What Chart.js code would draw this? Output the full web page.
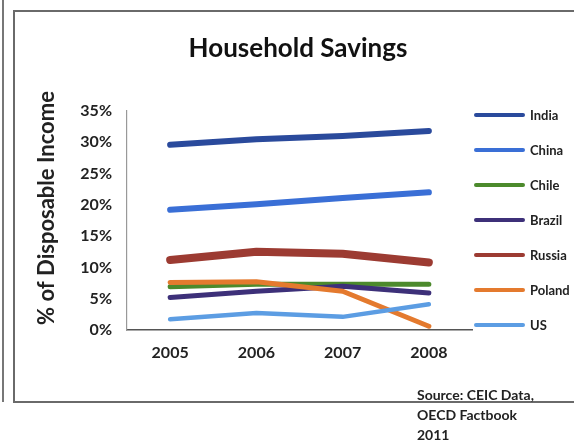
<!DOCTYPE html>
<html>
<head>
<meta charset="utf-8">
<title>Household Savings</title>
<script src="https://cdn.jsdelivr.net/npm/chart.js@4/dist/chart.umd.min.js"></script>
<style>
    body { margin: 0; background: #fff; }
    #wrap { position: relative; width: 574px; height: 442px; overflow: hidden; }
    #myChart { position: absolute; left: 0; top: 0; }
    .frame { position: absolute; border: 2px solid #6a6a6a; border-right: none; }
    #leftLine { position: absolute; left: 2px; top: 0; width: 0; height: 402px; border-left: 2px solid #777; }
    #chartTitle { position: absolute; left: 148px; width: 300px; top: 31px; text-align: center; font: bold 26px Lato, sans-serif; color: #111; }
    #source { position: absolute; left: 417px; top: 385px; font: bold 14px Lato, sans-serif; color: #222; line-height: 20px; }
</style>
</head>
<body>
<div id="wrap">
    <div id="leftLine"></div>
    <div class="frame" style="left:13px; top:10px; width:580px; height:389px;"></div>
    <canvas id="myChart" width="574" height="442"></canvas>
    <div id="chartTitle">Household Savings</div>
    <div id="source">Source: CEIC Data,<br>OECD Factbook<br>2011</div>
</div>
<script>
// 年
const years = ["2005", "2006", "2007", "2008"];
// 国名
const countries = ["India", "China", "Chile", "Brazil", "Russia", "Poland", "US"];
// 各国の貯蓄率 (%)
const india = [29.6, 30.5, 31.0, 31.8];
const china = [19.2, 20.1, 21.1, 22.0];
const chile = [6.9, 7.3, 7.3, 7.3];
const brazil = [5.2, 6.2, 7.0, 5.9];
const russia = [11.2, 12.5, 12.2, 10.8];
const poland = [7.6, 7.7, 6.2, 0.6];
const us = [1.7, 2.7, 2.1, 4.1];
// 目盛り
const yTicks = [0, 5, 10, 15, 20, 25, 30, 35];

const seriesValues = [india, china, chile, brazil, russia, poland, us];
const colors = ["#2a4a9c", "#3a6fd6", "#4c8a2c", "#3d3079", "#9c3b32", "#e47a2e", "#5c9de3"];
const widths = [6, 6, 5, 5, 8, 5, 4.5];

// 凡例と縦軸タイトル (手描き)
const extraPlugin = {
    id: 'sideLegend',
    afterDraw: function (chart) {
        const ctx = chart.ctx;
        ctx.save();
        chart.data.datasets.forEach(function (ds, i) {
            const y = 115 + 35 * i;
            ctx.strokeStyle = ds.borderColor;
            ctx.lineWidth = 4;
            ctx.lineCap = 'round';
            ctx.beginPath();
            ctx.moveTo(476, y);
            ctx.lineTo(523, y);
            ctx.stroke();
            ctx.fillStyle = '#222';
            ctx.font = 'bold 13px Lato, sans-serif';
            ctx.textAlign = 'left';
            ctx.textBaseline = 'middle';
            ctx.fillText(ds.label, 530, y + 1);
        });
        // 縦軸タイトル
        ctx.translate(47, 208);
        ctx.rotate(-Math.PI / 2);
        ctx.fillStyle = '#222';
        ctx.font = 'bold 22px Lato, sans-serif';
        ctx.textAlign = 'center';
        ctx.textBaseline = 'middle';
        ctx.fillText('% of Disposable Income', 0, 0);
        ctx.restore();
    }
};

const datasets = countries.map(function (name, i) {
    return {
        label: name,
        data: seriesValues[i],
        borderColor: colors[i],
        backgroundColor: colors[i],
        borderWidth: widths[i],
        borderCapStyle: 'round',
        borderJoinStyle: 'round',
        pointRadius: 0,
        tension: 0,
        order: countries.length - i
    };
});

const ctx = document.getElementById('myChart').getContext('2d');
const myChart = new Chart(ctx, {
    type: 'line',
    data: { labels: years, datasets: datasets },
    options: {
        responsive: false,
        animation: false,
        layout: { padding: { left: 0, right: 102, top: 111, bottom: 0 } },
        plugins: {
            legend: { display: false },
            tooltip: { enabled: false },
            title: { display: false }
        },
        scales: {
            x: {
                offset: true,
                grid: { display: false, drawTicks: false },
                border: { display: true, color: '#555', width: 1.5 },
                ticks: {
                    padding: 13,
                    color: '#222',
                    font: { family: 'Lato', size: 16, weight: 'bold' }
                },
                afterFit: function (scale) { scale.height = 112; }
            },
            y: {
                min: 0,
                max: 35,
                afterBuildTicks: function (scale) {
                    scale.ticks = yTicks.map(function (v) { return { value: v }; });
                },
                grid: { display: false, drawTicks: false },
                border: { display: true, color: '#999', width: 1.2 },
                ticks: {
                    padding: 15,
                    color: '#222',
                    font: { family: 'Lato', size: 16, weight: 'bold' },
                    callback: function (v) { return v + '%'; }
                },
                afterFit: function (scale) { scale.width = 127; }
            }
        }
    },
    plugins: [extraPlugin]
});
</script>
</body>
</html>
